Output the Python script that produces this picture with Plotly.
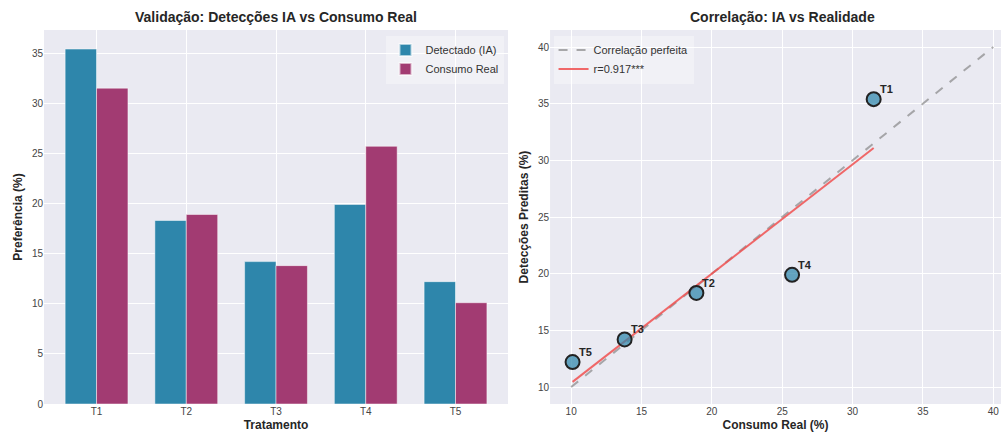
import numpy as np
import plotly.graph_objects as go

# ---- data ----
tratamentos = ["T1", "T2", "T3", "T4", "T5"]
detectado_ia = [35.4, 18.3, 14.2, 19.9, 12.2]
consumo_real = [31.5, 18.9, 13.8, 25.7, 10.1]
perfeita = [10, 40]
r_label = "r=0.917***"

BLUE = "#2E86AB"
MAG = "#A23B72"
BG = "#EAEAF2"
FONT = "Liberation Sans, Arial, sans-serif"
TXT = "#262626"

fig = go.Figure()

# ---- left: grouped bars ----
fig.add_trace(go.Bar(x=tratamentos, y=detectado_ia, name="Detectado (IA)",
                     marker=dict(color=BLUE, line=dict(color="rgba(255,255,255,0.6)", width=0.8)),
                     xaxis="x", yaxis="y", legend="legend"))
fig.add_trace(go.Bar(x=tratamentos, y=consumo_real, name="Consumo Real",
                     marker=dict(color=MAG, line=dict(color="rgba(255,255,255,0.6)", width=0.8)),
                     xaxis="x", yaxis="y", legend="legend"))

# ---- right: correlation ----
fig.add_trace(go.Scatter(x=perfeita, y=perfeita, mode="lines", name="Correlação perfeita",
                         line=dict(color="rgba(128,128,128,0.65)", width=2, dash="dash"),
                         xaxis="x2", yaxis="y2", legend="legend2"))
slope, intercept = np.polyfit(consumo_real, detectado_ia, 1)
xr = np.array([min(consumo_real), max(consumo_real)])
fig.add_trace(go.Scatter(x=xr, y=slope * xr + intercept, mode="lines", name=r_label,
                         line=dict(color="rgba(240,80,80,0.85)", width=2),
                         xaxis="x2", yaxis="y2", legend="legend2"))
fig.add_trace(go.Scatter(x=consumo_real, y=detectado_ia, mode="markers", showlegend=False,
                         marker=dict(size=14, color="rgba(46,134,171,0.72)",
                                     line=dict(color="#222222", width=2)),
                         xaxis="x2", yaxis="y2"))

annotations = []
for t, cx, dy in zip(tratamentos, consumo_real, detectado_ia):
    annotations.append(dict(x=cx, y=dy, xref="x2", yref="y2", text="<b>%s</b>" % t,
                            showarrow=False, xanchor="left", yanchor="bottom",
                            xshift=4, yshift=2, font=dict(size=11, color=TXT, family=FONT)))
annotations.append(dict(x=(0.044 + 0.5075) / 2, y=1.0, xref="paper", yref="paper",
                        text="<b>Validação: Detecções IA vs Consumo Real</b>", showarrow=False,
                        xanchor="center", yanchor="bottom", yshift=3,
                        font=dict(size=14, color=TXT, family=FONT)))
annotations.append(dict(x=0.782, y=1.0, xref="paper", yref="paper",
                        text="<b>Correlação: IA vs Realidade</b>", showarrow=False,
                        xanchor="center", yanchor="bottom", yshift=3,
                        font=dict(size=14, color=TXT, family=FONT)))

axis_common = dict(showgrid=True, gridcolor="white", gridwidth=1, zeroline=False,
                   showline=False, ticks="", tickfont=dict(size=10, color="#444", family=FONT))

fig.update_layout(
    width=1001, height=433,
    margin=dict(l=0, r=0, t=30, b=29),
    paper_bgcolor="white", plot_bgcolor=BG,
    font=dict(family=FONT, color=TXT),
    barmode="group", bargap=0.3, bargroupgap=0,
    annotations=annotations,
    xaxis=dict(domain=[0.044, 0.5075], range=[-0.585, 4.585],
               title=dict(text="<b>Tratamento</b>", font=dict(size=12), standoff=4),
               anchor="y", **axis_common),
    yaxis=dict(domain=[0, 1], range=[0, 37.3], dtick=5,
               title=dict(text="<b>Preferência (%)</b>", font=dict(size=12), standoff=6),
               anchor="x", **axis_common),
    xaxis2=dict(domain=[0.5495, 1.0], range=[8.5, 40.55], dtick=5,
                title=dict(text="<b>Consumo Real (%)</b>", font=dict(size=12), standoff=4),
                anchor="y2", **axis_common),
    yaxis2=dict(domain=[0, 1], range=[8.5, 41.5], dtick=5,
                title=dict(text="<b>Detecções Preditas (%)</b>", font=dict(size=12), standoff=6),
                anchor="x2", **axis_common),
    legend=dict(x=0.503, y=0.985, xanchor="right", yanchor="top",
                bgcolor="rgba(255,255,255,0.35)", borderwidth=0,
                font=dict(size=11, color="#333"), tracegroupgap=0, itemsizing="constant"),
    legend2=dict(x=0.553, y=0.985, xanchor="left", yanchor="top",
                 bgcolor="rgba(255,255,255,0.35)", borderwidth=0,
                 font=dict(size=11, color="#333"), tracegroupgap=0),
)

fig.write_html("out.html")
